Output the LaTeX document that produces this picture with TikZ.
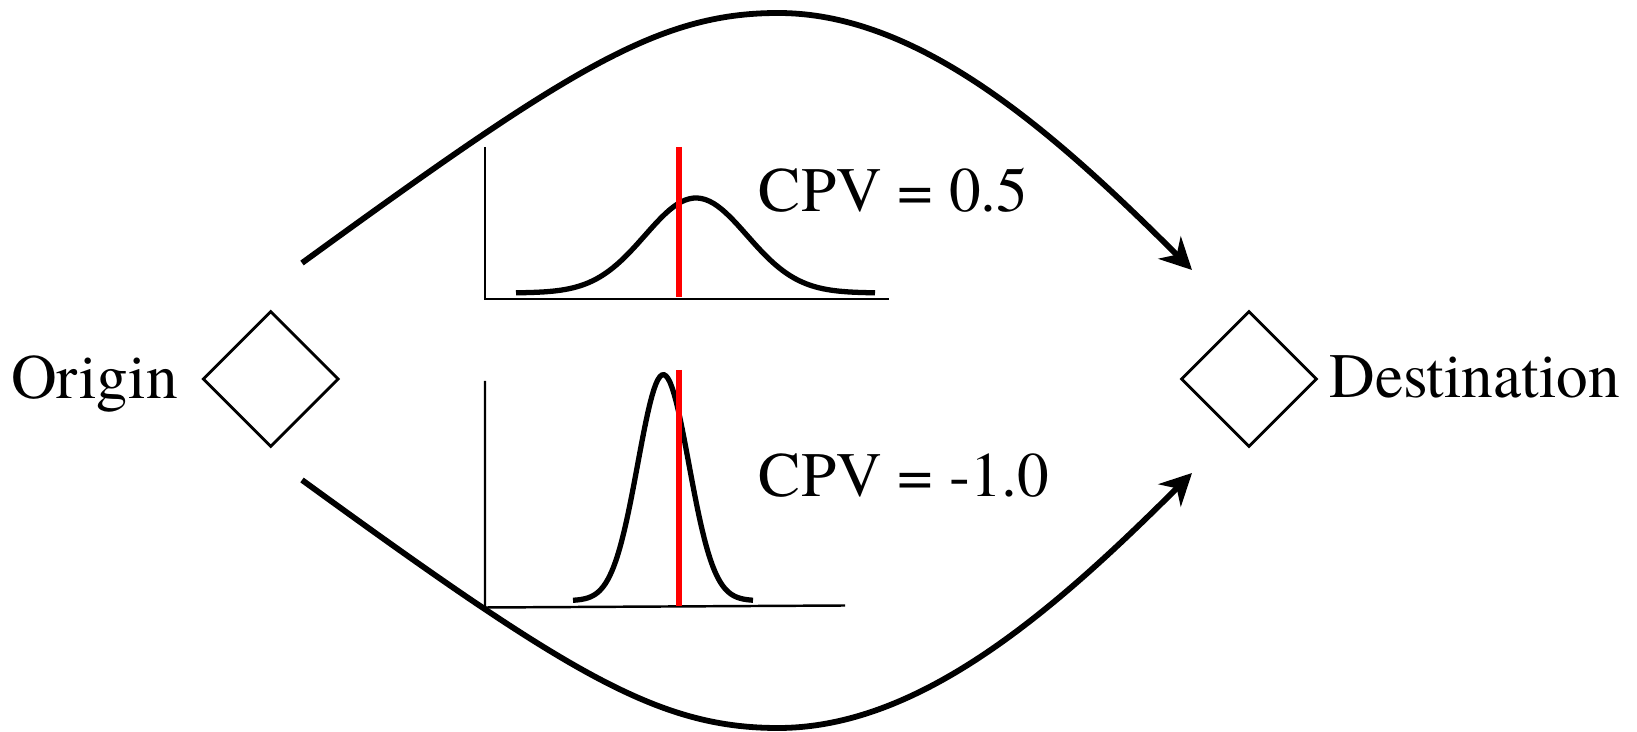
\documentclass[tikz,border=0pt]{standalone}
\usepackage{fontspec}
\setmainfont{TeX Gyre Termes}
\usetikzlibrary{arrows.meta,shapes.geometric,positioning}
\definecolor{cpvred}{RGB}{255,0,0}
\tikzset{cpvfig/.style={x=0.02cm,y=-0.02cm,font=\fontsize{36}{40}\selectfont}}
\tikzset{route/.style={line width=3.3pt,-{Stealth[length=18pt,width=18pt,inset=5.7pt]}},
         odnode/.style={draw,diamond,aspect=1,line width=1.6pt,inner sep=0pt,
                        minimum width=2.72cm,minimum height=2.72cm},
         axisline/.style={line width=1.4pt},
         density/.style={line width=3pt},
         cpvline/.style={cpvred,line width=3.4pt},
         plainlabel/.style={inner sep=0pt}}

\begin{document}
\begin{tikzpicture}[cpvfig]
    \useasboundingbox (0,0) rectangle (1637,732);
    \node[odnode] (orig) at (270.7,379) {};
    \node[odnode] (dest) at (1249,379) {};
    \node[plainlabel,anchor=base east] (origin) at (178,399) {Origin};
    \node[plainlabel,anchor=base west] (destination) at (1329,398) {Destination};
    \coordinate (otop) at (302,263);
    \coordinate (dtop) at (1192,270);
    \coordinate (obot) at (302,480);
    \coordinate (dbot) at (1192,473);
    \draw[route] (otop) .. controls (569,69) and (658,13) .. (778,13)
                        .. controls (918,13) and (1050.6,128.6) .. (dtop);
    \draw[route] (obot) .. controls (569,674) and (658,728) .. (778,728)
                        .. controls (918,728) and (1050.6,614.4) .. (dbot);
    % upper route: wide spread
    \draw[axisline] (485,147) -- (485,299) -- (889,299);
    \draw[density,domain=516:875,samples=90] plot (\x,{293-95*exp(-0.5*((\x-696)/51)^2)});
    \draw[cpvline] (679.3,147) -- (679.3,297);
    \node[plainlabel,anchor=base west] (cpvup) at (758.5,211.7) {CPV = 0.5};
    % lower route: narrow spread
    \draw[axisline] (485,381) -- (485,607.5) -- (845,605.5);
    \draw[density,domain=573:753,samples=90] plot (\x,{600.7-226*exp(-0.5*((\x-663.3)/25.5)^2)});
    \draw[cpvline] (679.3,370) -- (679.3,606);
    \node[plainlabel,anchor=base west] (cpvdown) at (758.5,496.7) {CPV = -1.0};
\end{tikzpicture}
\end{document}
